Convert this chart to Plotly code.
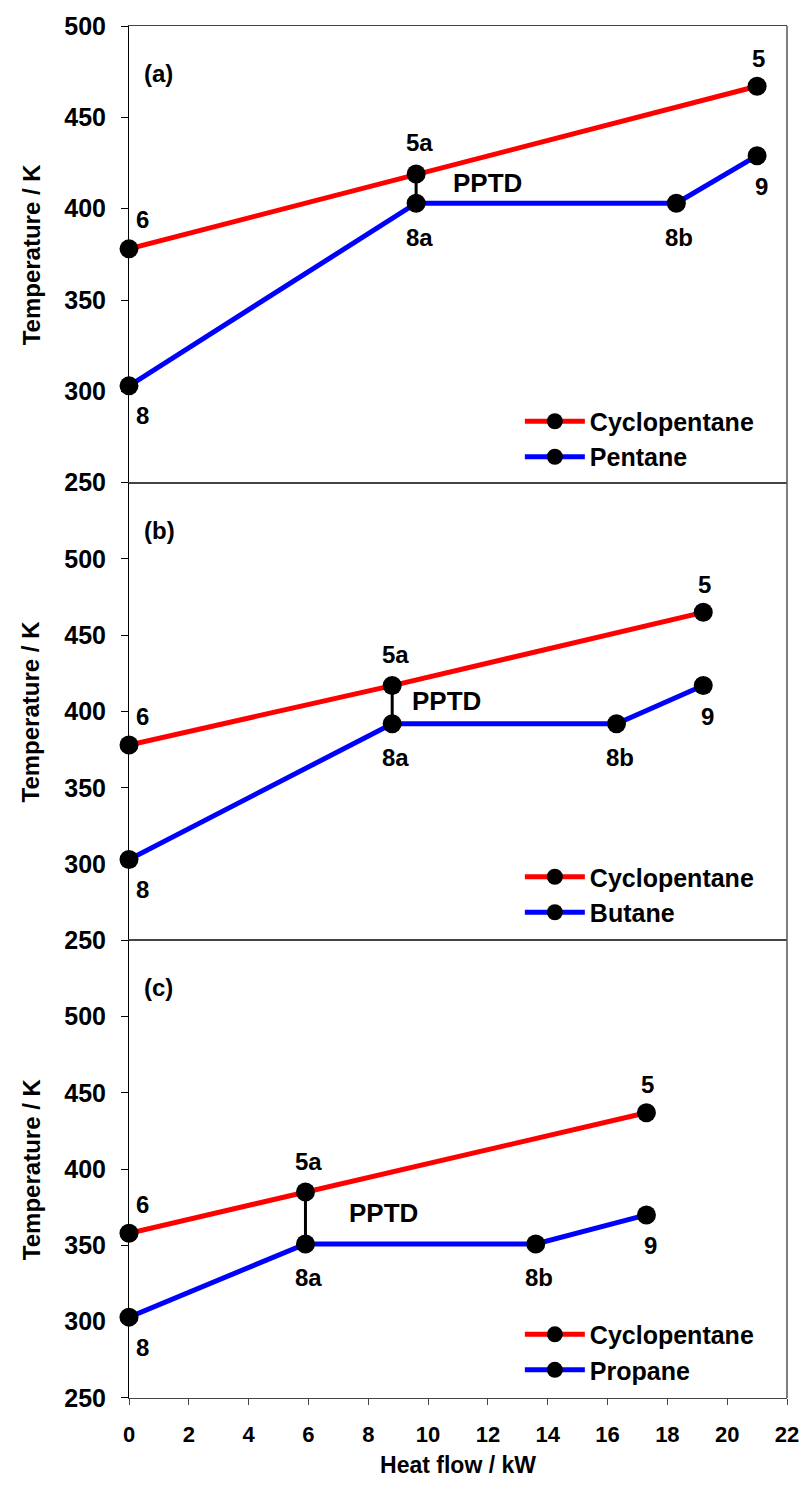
import plotly.graph_objects as go
from plotly.subplots import make_subplots

# Heat flow (kW) and temperature (K) at the state points of each heat exchanger
heat_a_cyclo = [0.0, 9.6, 21.0]
temp_a_cyclo = [378, 419, 467]
heat_a_wf = [0.0, 9.6, 18.3, 21.0]
temp_a_wf = [303, 403, 403, 429]

heat_b_cyclo = [0.0, 8.8, 19.2]
temp_b_cyclo = [378, 417, 465]
heat_b_wf = [0.0, 8.8, 16.3, 19.2]
temp_b_wf = [303, 392, 392, 417]

heat_c_cyclo = [0.0, 5.9, 17.3]
temp_c_cyclo = [358, 385, 437]
heat_c_wf = [0.0, 5.9, 13.6, 17.3]
temp_c_wf = [303, 351, 351, 370]

cyclo_points = ["6", "5a", "5"]
wf_points = ["8", "8a", "8b", "9"]
working_fluids = ["Pentane", "Butane", "Propane"]
panel_tags = ["(a)", "(b)", "(c)"]
x_ticks = list(range(0, 23, 2))

panels = [
    (heat_a_cyclo, temp_a_cyclo, heat_a_wf, temp_a_wf),
    (heat_b_cyclo, temp_b_cyclo, heat_b_wf, temp_b_wf),
    (heat_c_cyclo, temp_c_cyclo, heat_c_wf, temp_c_wf),
]

FONT = "Liberation Sans, Arial, sans-serif"


def bold(size):
    return dict(family=FONT, size=size, color="black", weight="bold")


fig = make_subplots(rows=3, cols=1, shared_xaxes=True, vertical_spacing=0,
                    row_heights=[459, 460, 460])

# label placement: (vertical shift in px, horizontal shift in px)
cyclo_offsets = [(29, 13), (31, 3), (28, 1)]
wf_offsets = [(-30, 13), (-34, 3), (-34, 3), (-31, 4)]
pptd_pos = [(12.0, 414), (10.6, 407), (8.5, 371)]
legend_tops = [0.7285, 0.3965, 0.063]

for i, (hx_c, t_c, hx_w, t_w) in enumerate(panels):
    row = i + 1
    legend_id = "legend" if i == 0 else f"legend{i + 1}"
    # pinch-point connector between 5a and 8a
    fig.add_trace(go.Scatter(x=[hx_c[1], hx_w[1]], y=[t_c[1], t_w[1]], mode="lines",
                             line=dict(color="black", width=3), showlegend=False,
                             hoverinfo="skip"), row=row, col=1)
    fig.add_trace(go.Scatter(x=hx_c, y=t_c, mode="lines+markers", name="Cyclopentane",
                             line=dict(color="#ff0000", width=5),
                             marker=dict(color="black", size=19),
                             cliponaxis=False, legend=legend_id), row=row, col=1)
    fig.add_trace(go.Scatter(x=hx_w, y=t_w, mode="lines+markers", name=working_fluids[i],
                             line=dict(color="#0000ff", width=5),
                             marker=dict(color="black", size=19),
                             cliponaxis=False, legend=legend_id), row=row, col=1)

    xref = "x" if i == 0 else f"x{row}"
    yref = "y" if i == 0 else f"y{row}"
    for lab, xv, yv, (dy, dx) in zip(cyclo_points, hx_c, t_c, cyclo_offsets):
        fig.add_annotation(x=xv, y=yv, xref=xref, yref=yref, text=lab,
                           showarrow=False, xshift=dx, yshift=dy, font=bold(24))
    for lab, xv, yv, (dy, dx) in zip(wf_points, hx_w, t_w, wf_offsets):
        fig.add_annotation(x=xv, y=yv, xref=xref, yref=yref, text=lab,
                           showarrow=False, xshift=dx, yshift=dy, font=bold(24))
    fig.add_annotation(x=pptd_pos[i][0], y=pptd_pos[i][1], xref=xref, yref=yref,
                       text="PPTD", showarrow=False, font=bold(26))
    fig.add_annotation(x=0.02, y=0.93, xref=f"{xref} domain", yref=f"{yref} domain",
                       text=panel_tags[i], showarrow=False, xanchor="left",
                       font=bold(24))
    fig.add_annotation(x=-0.149, y=0.5, xref="paper", yref=f"{yref} domain",
                       text="Temperature / K", showarrow=False, textangle=-90,
                       xanchor="center", yanchor="middle", font=bold(24))

    fig.update_yaxes(row=row, col=1,
                     range=[250, 500] if i == 0 else [250, 550],
                     tickvals=[250, 300, 350, 400, 450, 500],
                     ticks="outside", ticklen=7, tickcolor="black",
                     showline=True, linecolor="black", linewidth=1,
                     showgrid=False, zeroline=False, ticklabelstandoff=10,
                     tickfont=bold(25))
    fig.update_xaxes(row=row, col=1, range=[0, 22], tickvals=x_ticks,
                     showline=True, linecolor="#444", linewidth=1, mirror=True,
                     showgrid=False, zeroline=False,
                     ticks="outside" if row == 3 else "", ticklen=6, tickcolor="#444",
                     showticklabels=(row == 3), ticklabelstandoff=11,
                     tickfont=bold(22))

    fig.layout[legend_id] = dict(x=0.594, y=legend_tops[i], xanchor="left", yanchor="top",
                                 bgcolor="rgba(0,0,0,0)", tracegroupgap=0,
                                 font=bold(25), itemwidth=60)

fig.update_xaxes(row=3, col=1, title=dict(text="Heat flow / kW", standoff=10,
                                          font=bold(23)))

# right-hand frame edge
fig.add_shape(type="line", xref="paper", yref="paper", x0=1, x1=1, y0=0, y1=1,
              line=dict(color="#555", width=1.5))

fig.update_layout(width=811, height=1486, margin=dict(l=129, r=17, t=22, b=85),
                  plot_bgcolor="white", paper_bgcolor="white",
                  font=dict(family=FONT, color="black"))

fig.write_html("out.html")
